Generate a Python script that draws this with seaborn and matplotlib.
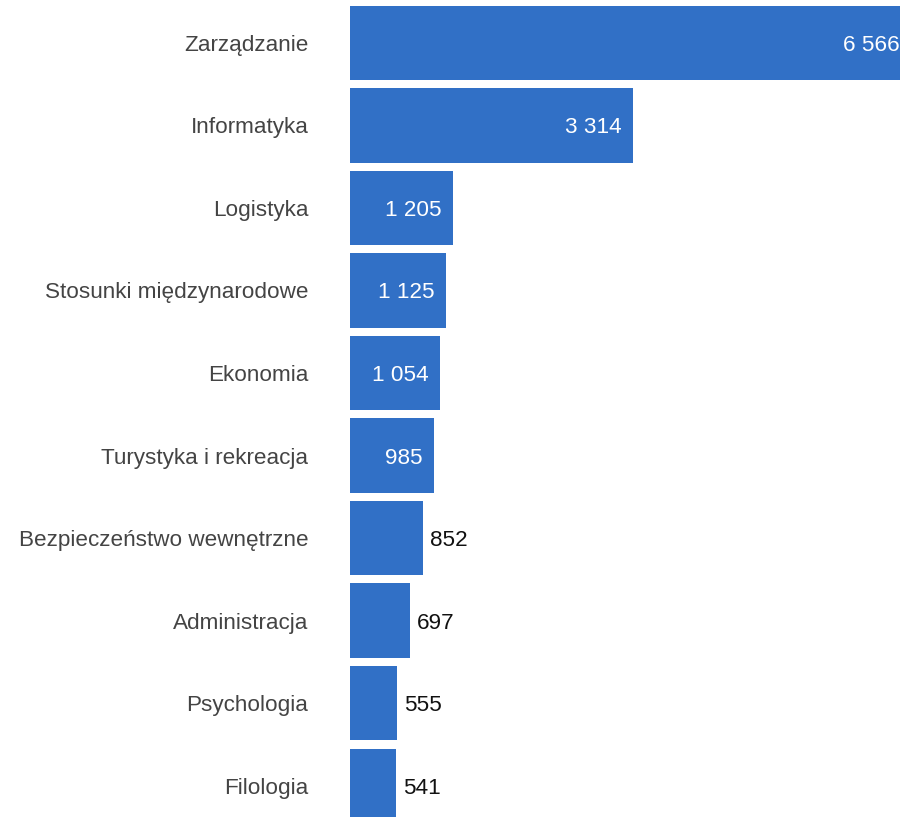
import matplotlib
matplotlib.use("Agg")
import matplotlib.pyplot as plt
import seaborn as sns
import pandas as pd

categories = ["Zarządzanie", "Informatyka", "Logistyka", "Stosunki międzynarodowe",
              "Ekonomia", "Turystyka i rekreacja", "Bezpieczeństwo wewnętrzne",
              "Administracja", "Psychologia", "Filologia"]
values = [6566, 3314, 1205, 1125, 1054, 985, 852, 697, 555, 541]

df = pd.DataFrame({"kierunek": categories, "liczba": values})

sns.set_theme(style="white")
plt.rcParams["font.family"] = ["Liberation Sans", "DejaVu Sans"]

fig = plt.figure(figsize=(9, 8.17), dpi=100)
ax = fig.add_axes([350/900, 0, 550/900, 1])

sns.barplot(data=df, y="kierunek", x="liczba", orient="h", color="#3170C6",
            saturation=1, width=0.9, ax=ax, edgecolor="none")

ax.set_xlim(0, 6440)
ax.set_ylim(9.38, -0.52)

fmt = lambda v: f"{v:,}".replace(",", " ")
FS = 16.2
cont = ax.containers[0]
for rect, v in zip(cont.patches, values):
    y = rect.get_y() + rect.get_height() / 2
    x = rect.get_width()
    if v >= 900:
        ax.annotate(fmt(v), (x, y), xytext=(-8, 0), textcoords="offset points",
                    ha="right", va="center_baseline", color="white", fontsize=FS,
                    annotation_clip=False)
    else:
        ax.annotate(fmt(v), (x, y), xytext=(5, 0), textcoords="offset points",
                    ha="left", va="center_baseline", color="#111111", fontsize=FS,
                    annotation_clip=False)

ax.set_xlabel("")
ax.set_ylabel("")
ax.set_xticks([])
ax.tick_params(axis="y", length=0, pad=30, labelsize=FS, labelcolor="#444444")
for s in ax.spines.values():
    s.set_visible(False)

fig.savefig("out.png", dpi=100, facecolor="white")
